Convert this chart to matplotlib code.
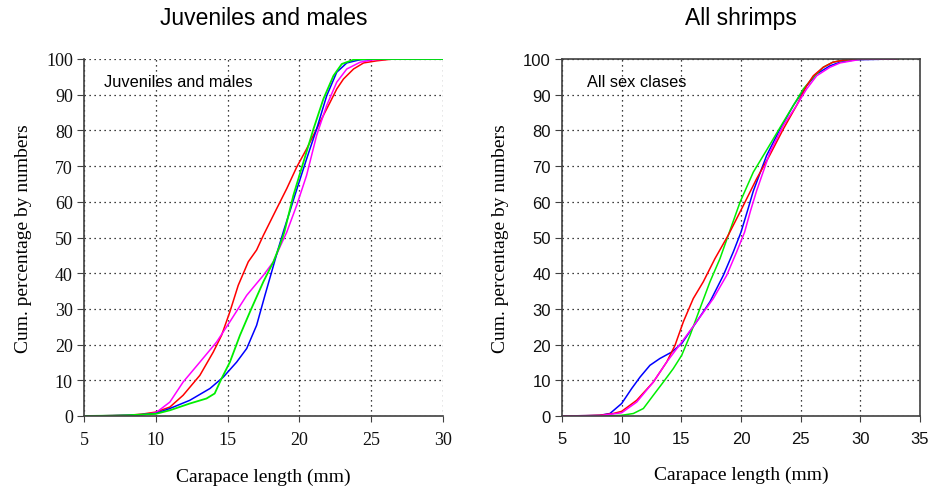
import matplotlib
matplotlib.use('Agg')
import matplotlib.pyplot as plt

# Left panel: juveniles and males (carapace length mm, cumulative %)
jm_red_x = [5, 7, 8, 9, 10, 10.98, 11.9, 13.07, 14.0, 14.58, 15.16, 15.74, 16.44,
            17.02, 17.49, 18.42, 19.12, 19.81, 20.5, 21.2, 21.67, 22.14, 22.6,
            23.07, 23.77, 24.47, 25.4, 26.5, 30]
jm_red_y = [0, 0.1, 0.2, 0.5, 1.1, 2.5, 5.8, 11.4, 17.9, 22.6, 29.2, 36.6, 43.2,
            46.5, 50.6, 58.1, 63.7, 69.7, 74.8, 80.4, 84.2, 87.9, 91.6,
            94.4, 97.2, 98.9, 99.5, 100, 100]
jm_mag_x = [5, 7, 8, 9, 10, 10.98, 11.9, 13.07, 14.23, 15.16, 16.33, 17.49, 18.19,
            18.65, 19.12, 19.81, 20.5, 21.2, 21.9, 22.6, 23.3, 24.23, 25.16, 26.5, 30]
jm_mag_y = [0, 0.1, 0.15, 0.3, 0.9, 3.9, 9.5, 15.1, 20.7, 26.4, 33.8, 39.4, 43.2,
            47.4, 51.5, 59.0, 67.4, 78.6, 87.0, 93.5, 97.2, 99.1, 99.8, 100, 100]
jm_blue_x = [5, 7, 8, 9, 10, 10.98, 12.37, 13.77, 14.7, 15.63, 16.33, 17.02, 17.6,
             18.07, 18.5, 18.95, 19.35, 19.7, 20.5, 21.2, 21.9, 22.6, 23.3, 24.23,
             25.5, 30]
jm_blue_y = [0, 0.1, 0.2, 0.4, 0.7, 2.1, 4.4, 7.7, 10.9, 15.1, 18.9, 25.4, 33.8,
             40.4, 46.5, 52.5, 57.5, 62.0, 72.0, 80.4, 89.7, 96.3, 98.9, 99.8,
             100, 100]
jm_green_x = [5, 7, 8, 9, 10, 10.98, 12.37, 13.53, 14.1, 14.58, 15.16, 15.86, 16.56,
              17.49, 18.19, 18.65, 18.95, 19.58, 20.28, 20.98, 21.67, 22.37, 22.95,
              23.77, 24.7, 30]
jm_green_y = [0, 0.1, 0.2, 0.4, 0.6, 1.6, 3.5, 4.9, 6.3, 10.5, 15.1, 22.6, 29.2,
              37.6, 43.2, 47.9, 51.5, 61.8, 71.1, 80.4, 88.8, 95.3, 98.6,
              99.8, 100, 100]

# Right panel: all shrimps
all_red_x = [5, 7, 8.18, 9.3, 10, 11.26, 12.65, 13.77, 14.47, 15.17, 16.0, 16.84,
             17.82, 18.94, 20.2, 21.3, 22.4, 23.55, 24.66, 25.5, 26.06, 26.9, 27.7,
             28.6, 30, 33]
all_red_y = [0, 0.1, 0.2, 0.7, 1.3, 4.4, 9.5, 15.1, 19.8, 26.4, 32.9, 37.6,
             44.1, 50.7, 59.0, 66.4, 73.0, 80.4, 87.0, 92.5, 95.3, 97.7, 99.1,
             99.7, 100, 100]
all_blue_x = [5, 7, 8.18, 9.02, 10, 10.84, 11.54, 12.37, 13.2, 14.19, 15.03, 16.28,
              17.4, 18.52, 19.36, 20.0, 20.5, 21.03, 22.15, 23.27, 24.39, 25.5, 26.34,
              27.46, 28.3, 29.6, 33]
all_blue_y = [0, 0.1, 0.2, 0.7, 3.5, 7.7, 10.9, 14.2, 16.1, 17.9, 20.3, 26.4,
              32.0, 39.4, 46.0, 51.5, 57.0, 63.0, 73.0, 80.4, 87.0, 92.5, 95.8,
              98.1, 99.1, 99.8, 100]
all_green_x = [5, 9, 10, 10.98, 11.82, 12.65, 13.49, 14.33, 15.03, 15.73, 16.56,
               17.4, 18.24, 18.94, 19.92, 21.03, 22.15, 23.27, 24.39, 25.22, 26.06,
               26.9, 27.7, 28.3, 29.5, 33]
all_green_y = [0, 0.05, 0.2, 0.7, 2.1, 5.8, 9.5, 13.3, 17.0, 22.6, 30.1,
               37.6, 44.1, 50.7, 59.9, 68.3, 74.5, 80.8, 87.0, 91.6, 94.9,
               97.7, 99.1, 99.5, 99.9, 100]
all_mag_x = [5, 7, 8.18, 10, 11.26, 12.65, 13.77, 15.03, 16.28, 17.68, 18.8, 19.64,
             20.3, 20.8, 21.3, 22.43, 23.55, 24.66, 25.5, 26.34, 27.46, 28.3, 30, 33]
all_mag_y = [0, 0.05, 0.1, 0.9, 3.9, 9.5, 15.1, 20.7, 26.4, 32.9, 39.4, 46.0,
             51.5, 57.5, 63.0, 73.9, 81.4, 87.0, 91.6, 95.3, 97.7, 98.9, 99.9, 100]

left_xticks = [5, 10, 15, 20, 25, 30]
right_xticks = [5, 10, 15, 20, 25, 30, 35]
yticks = list(range(0, 101, 10))

SERIF = 'Liberation Serif'
SANS = 'Liberation Sans'
SPINE = '#404040'

fig = plt.figure(figsize=(9.3, 4.89), dpi=100)
ax1 = fig.add_axes([84 / 930, 72 / 489, 359 / 930, 357 / 489])
ax2 = fig.add_axes([562 / 930, 72 / 489, 358 / 930, 357 / 489])

ax1.plot(jm_red_x, jm_red_y, color='#ff0000', lw=1.1)
ax1.plot(jm_mag_x, jm_mag_y, color='#ff00ff', lw=1.1)
ax1.plot(jm_blue_x, jm_blue_y, color='#0000ff', lw=1.1)
ax1.plot(jm_green_x, jm_green_y, color='#00ee00', lw=1.3)

ax2.plot(all_blue_x, all_blue_y, color='#0000ff', lw=1.1)
ax2.plot(all_green_x, all_green_y, color='#00ee00', lw=1.1)
ax2.plot(all_red_x, all_red_y, color='#ff0000', lw=1.1)
ax2.plot(all_mag_x, all_mag_y, color='#ff00ff', lw=1.1)

for ax, xt, tickfont in [(ax1, left_xticks, SERIF), (ax2, right_xticks, SANS)]:
    ax.set_xlim(xt[0], xt[-1])
    ax.set_ylim(0, 100)
    ax.set_xticks(xt)
    ax.set_yticks(yticks)
    ax.grid(True, color='black', linestyle=(0, (1, 3)), linewidth=0.9)
    ax.set_axisbelow(True)
    ax.tick_params(axis='x', direction='out', length=4, color=SPINE, pad=7)
    ax.tick_params(axis='y', direction='out', length=5, color=SPINE, pad=3)
    for lab in ax.get_xticklabels() + ax.get_yticklabels():
        lab.set_fontfamily(tickfont)
        lab.set_fontsize(13 if tickfont == SERIF else 12)
        lab.set_color('#111111')
    for sp in ax.spines.values():
        sp.set_color(SPINE)
        sp.set_linewidth(1.2)
    ax.set_xlabel('Carapace length (mm)', fontfamily=SERIF, fontsize=14, labelpad=14)
    ax.set_ylabel('Cum. percentage by numbers', fontfamily=SERIF, fontsize=14, labelpad=10)

ax1.spines['top'].set_visible(False)
ax1.spines['right'].set_visible(False)

ax1.set_title('Juveniles and males', fontfamily=SANS, fontsize=16.5, pad=25)
ax2.set_title('All shrimps', fontfamily=SANS, fontsize=16.5, pad=25)

ax1.text(0.055, 0.958, 'Juveniles and males', transform=ax1.transAxes,
         fontfamily=SANS, fontsize=11.8, va='top', ha='left')
ax2.text(0.07, 0.958, 'All sex clases', transform=ax2.transAxes,
         fontfamily=SANS, fontsize=11.8, va='top', ha='left')

fig.savefig('out.png', dpi=100)
